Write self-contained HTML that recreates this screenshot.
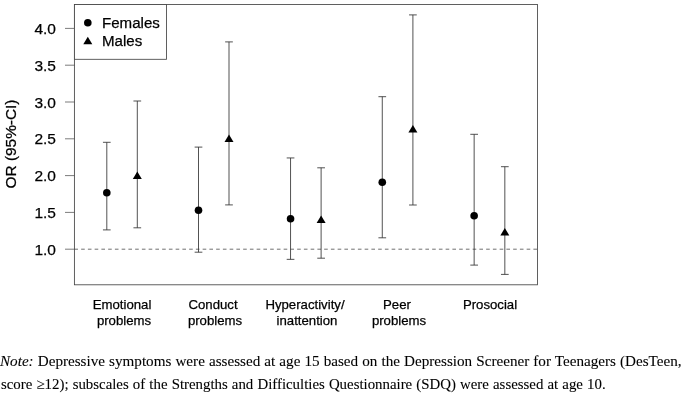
<!DOCTYPE html>
<html><head><meta charset="utf-8"><title>Figure</title>
<style>
html,body{margin:0;padding:0;background:#fff;}
.t{will-change:transform;filter:blur(0.3px);-webkit-text-stroke:0.25px #000;}
.note{will-change:transform;filter:blur(0.3px);-webkit-text-stroke:0.1px #000;}
body{width:685px;height:394px;position:relative;overflow:hidden;font-family:"Liberation Sans",sans-serif;color:#000;}
.t{position:absolute;white-space:nowrap;line-height:1;}
.yl{font-size:15.5px;width:40px;text-align:right;left:15.8px;}
.xl{font-size:13.2px;text-align:center;width:120px;line-height:15.5px;}
.lg{font-size:15.1px;left:102px;}
.note{position:absolute;left:1px;font-family:"Liberation Serif",serif;font-size:14.85px;line-height:22px;height:22px;text-align:justify;text-align-last:justify;white-space:normal;overflow:hidden;}
</style></head><body>
<svg width="685" height="394" viewBox="0 0 685 394" style="position:absolute;left:0;top:0;will-change:transform;filter:blur(0.35px)">
<rect x="74.4" y="4.5" width="463.1" height="280.3" fill="none" stroke="#444" stroke-width="0.85"/>
<line x1="65.0" x2="74.4" y1="249.2" y2="249.2" stroke="#444" stroke-width="0.7"/>
<line x1="65.0" x2="74.4" y1="212.4" y2="212.4" stroke="#444" stroke-width="0.7"/>
<line x1="65.0" x2="74.4" y1="175.6" y2="175.6" stroke="#444" stroke-width="0.7"/>
<line x1="65.0" x2="74.4" y1="138.8" y2="138.8" stroke="#444" stroke-width="0.7"/>
<line x1="65.0" x2="74.4" y1="102.0" y2="102.0" stroke="#444" stroke-width="0.7"/>
<line x1="65.0" x2="74.4" y1="65.2" y2="65.2" stroke="#444" stroke-width="0.7"/>
<line x1="65.0" x2="74.4" y1="28.4" y2="28.4" stroke="#444" stroke-width="0.7"/>
<line x1="74.4" x2="537.55" y1="249.2" y2="249.2" stroke="#333" stroke-width="0.7" stroke-dasharray="3.6 3.15"/>
<rect x="74.4" y="4.5" width="92.1" height="54.8" fill="#fff" stroke="#444" stroke-width="0.85"/>
<path d="M106.80 142.30V229.90M102.95 142.30H110.65M102.95 229.90H110.65" fill="none" stroke="#333" stroke-width="0.85"/>
<circle cx="106.80" cy="192.80" r="3.8" fill="#000"/>
<path d="M137.30 101.00V227.80M133.45 101.00H141.15M133.45 227.80H141.15" fill="none" stroke="#333" stroke-width="0.85"/>
<polygon points="137.30,171.60 141.80,179.10 132.80,179.10" fill="#000"/>
<path d="M198.50 147.10V252.20M194.65 147.10H202.35M194.65 252.20H202.35" fill="none" stroke="#333" stroke-width="0.85"/>
<circle cx="198.50" cy="210.20" r="3.8" fill="#000"/>
<path d="M229.00 41.90V204.90M225.15 41.90H232.85M225.15 204.90H232.85" fill="none" stroke="#333" stroke-width="0.85"/>
<polygon points="229.00,134.40 233.50,141.90 224.50,141.90" fill="#000"/>
<path d="M290.55 157.95V259.35M286.70 157.95H294.40M286.70 259.35H294.40" fill="none" stroke="#333" stroke-width="0.85"/>
<circle cx="290.55" cy="218.70" r="3.8" fill="#000"/>
<path d="M321.12 167.80V258.20M317.27 167.80H324.97M317.27 258.20H324.97" fill="none" stroke="#333" stroke-width="0.85"/>
<polygon points="321.12,215.60 325.62,223.10 316.62,223.10" fill="#000"/>
<path d="M382.28 96.70V237.80M378.43 96.70H386.13M378.43 237.80H386.13" fill="none" stroke="#333" stroke-width="0.85"/>
<circle cx="382.28" cy="182.20" r="3.8" fill="#000"/>
<path d="M412.90 14.90V205.00M409.05 14.90H416.75M409.05 205.00H416.75" fill="none" stroke="#333" stroke-width="0.85"/>
<polygon points="412.90,125.00 417.40,132.50 408.40,132.50" fill="#000"/>
<path d="M474.15 134.30V265.10M470.30 134.30H478.00M470.30 265.10H478.00" fill="none" stroke="#333" stroke-width="0.85"/>
<circle cx="474.15" cy="215.80" r="3.8" fill="#000"/>
<path d="M504.83 166.70V274.40M500.98 166.70H508.68M500.98 274.40H508.68" fill="none" stroke="#333" stroke-width="0.85"/>
<polygon points="504.83,228.10 509.33,235.60 500.33,235.60" fill="#000"/>
<circle cx="87.80" cy="22.80" r="3.8" fill="#000"/>
<polygon points="87.80,36.70 92.30,44.20 83.30,44.20" fill="#000"/>
<text transform="translate(15.6 144.0) rotate(-90)" text-anchor="middle" font-family="Liberation Sans, sans-serif" font-size="15.4" fill="#000" stroke="#000" stroke-width="0.25">OR (95%-CI)</text>
</svg>
<div class="t yl" style="top:241.8px">1.0</div>
<div class="t yl" style="top:205.0px">1.5</div>
<div class="t yl" style="top:168.2px">2.0</div>
<div class="t yl" style="top:131.3px">2.5</div>
<div class="t yl" style="top:94.6px">3.0</div>
<div class="t yl" style="top:57.7px">3.5</div>
<div class="t yl" style="top:21.0px">4.0</div>
<div class="t lg" style="top:14.7px">Females</div>
<div class="t lg" style="top:32.7px">Males</div>
<div class="t xl" style="left:61.6px;top:296.9px">Emotional</div>
<div class="t xl" style="left:63.6px;top:313.0px">problems</div>
<div class="t xl" style="left:153.2px;top:296.9px">Conduct</div>
<div class="t xl" style="left:154.9px;top:313.0px">problems</div>
<div class="t xl" style="left:245.2px;top:296.9px">Hyperactivity/</div>
<div class="t xl" style="left:247.1px;top:313.0px">inattention</div>
<div class="t xl" style="left:337.0px;top:296.9px">Peer</div>
<div class="t xl" style="left:338.8px;top:313.0px">problems</div>
<div class="t xl" style="left:429.8px;top:296.9px">Prosocial</div>
<div class="note" style="top:350.2px;left:0.3px;width:681.6px;font-size:15.15px"><i>Note:</i> Depressive symptoms were assessed at age 15 based on the Depression Screener for Teenagers (DesTeen,</div>
<div class="note" style="top:372.7px;width:604.6px">score &ge;12); subscales of the Strengths and Difficulties Questionnaire (SDQ) were assessed at age 10.</div>
</body></html>
